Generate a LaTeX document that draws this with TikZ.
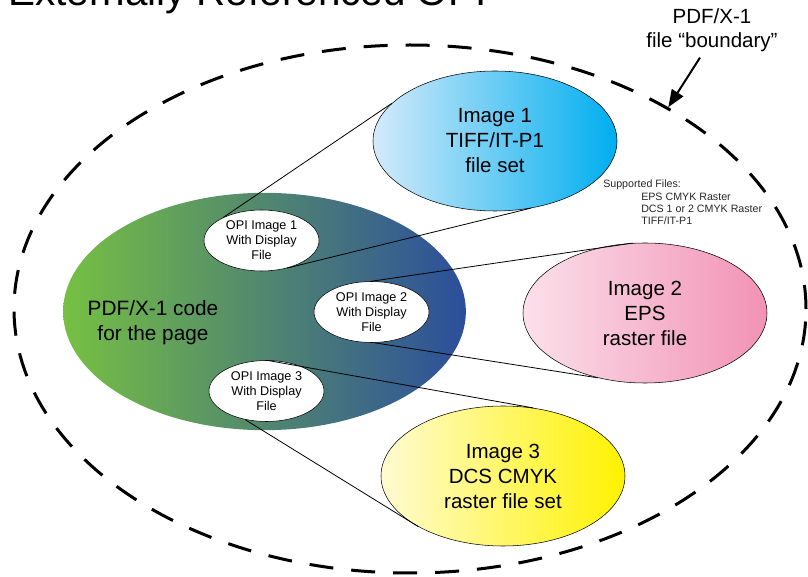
\documentclass[tikz,border=0pt]{standalone}
\usepackage{fontspec}
\setmainfont{Liberation Sans}
\usetikzlibrary{shapes.geometric, arrows.meta}
\definecolor{pagegreen}{RGB}{118,192,67}
\definecolor{pageteal}{RGB}{84,146,140}
\definecolor{pageblue}{RGB}{44,78,156}
\definecolor{tiffblue}{RGB}{0,174,239}
\definecolor{tifflight}{RGB}{212,234,250}
\definecolor{epspink}{RGB}{242,146,180}
\definecolor{epslight}{RGB}{251,224,234}
\definecolor{dcsyellow}{RGB}{255,242,0}
\definecolor{dcslight}{RGB}{255,251,210}

\begin{document}
\begin{tikzpicture}[x=0.75pt, y=-0.75pt]
	\useasboundingbox (0,0) rectangle (808,577);
	\node[anchor=base west, inner sep=0, font=\fontsize{30.3}{36}\selectfont] (title) at (8,6) {Externally Referenced OPI};
	\begin{scope}[every node/.style={ellipse, inner sep=0, align=center}]
	\node[draw, line width=2.25pt, dash pattern=on 18pt off 13.5pt, minimum width=594pt, minimum height=396pt] (boundary) at (410,309) {};
	\node[left color=pagegreen, middle color=pageteal, right color=pageblue, minimum width=302pt, minimum height=178pt] (page) at (264.5,311.5) {};
	
	\node[draw, fill=white, minimum width=86.25pt, minimum height=45.75pt, font=\fontsize{9.5}{11.25}\selectfont] (opi1) at (261.5,240.5) {OPI Image 1\\With Display\\File};
	\node[draw, fill=white, minimum width=86.25pt, minimum height=45.75pt, font=\fontsize{9.5}{11.25}\selectfont] (opi2) at (371.5,312) {OPI Image 2\\With Display\\File};
	\node[draw, fill=white, minimum width=86.25pt, minimum height=45.75pt, font=\fontsize{9.5}{11.25}\selectfont] (opi3) at (266.5,391) {OPI Image 3\\With Display\\File};
	
	\node[draw, left color=tifflight, right color=tiffblue, minimum width=183pt, minimum height=105pt, font=\fontsize{15.4}{18.75}\selectfont] (img1) at (495,141) {Image 1\\TIFF/IT-P1\\file set};
	\node[draw, left color=epslight, right color=epspink, minimum width=183pt, minimum height=105pt, font=\fontsize{15.4}{18.75}\selectfont] (img2) at (645,313) {Image 2\\EPS\\raster file};
	\node[draw, left color=dcslight, right color=dcsyellow, minimum width=183pt, minimum height=105pt, font=\fontsize{15.4}{18.75}\selectfont] (img3) at (503,476) {Image 3\\DCS CMYK\\raster file set};
	\end{scope}
	
	\node[align=center, font=\fontsize{15.6}{18.75}\selectfont] (pagecode) at (153,323) {PDF/X-1 code\\for the page};
	\node[align=center, font=\fontsize{15.4}{18}\selectfont] (bdlabel) at (712,30) {PDF/X-1\\file “boundary”};
	\node[anchor=north west, align=left, inner sep=0, text=black!85, font=\fontsize{8}{9.25}\selectfont] (supported) at (603,180) {Supported Files:\\\hspace*{28.5pt}EPS CMYK Raster\\\hspace*{28.5pt}DCS 1 or 2 CMYK Raster\\\hspace*{28.5pt}TIFF/IT-P1};
	
	\draw[-, line width=0.6pt] (opi1.149) -- (img1.160);
	\draw[-, line width=0.6pt] (opi1.-47) -- (img1.-62);
	\draw[-, line width=0.6pt] (opi2.90) -- (img2.100);
	\draw[-, line width=0.6pt] (opi2.-85) -- (img2.-126);
	\draw[-, line width=0.6pt] (opi3.90) -- (img3.66);
	\draw[-, line width=0.6pt] (opi3.-127) -- (img3.-149);
	
	\draw[line width=1.5pt, -{Triangle[length=13pt, width=10pt]}] ([xshift=-9pt, yshift=-1pt]bdlabel.south) -- (boundary.38);
\end{tikzpicture}
\end{document}
